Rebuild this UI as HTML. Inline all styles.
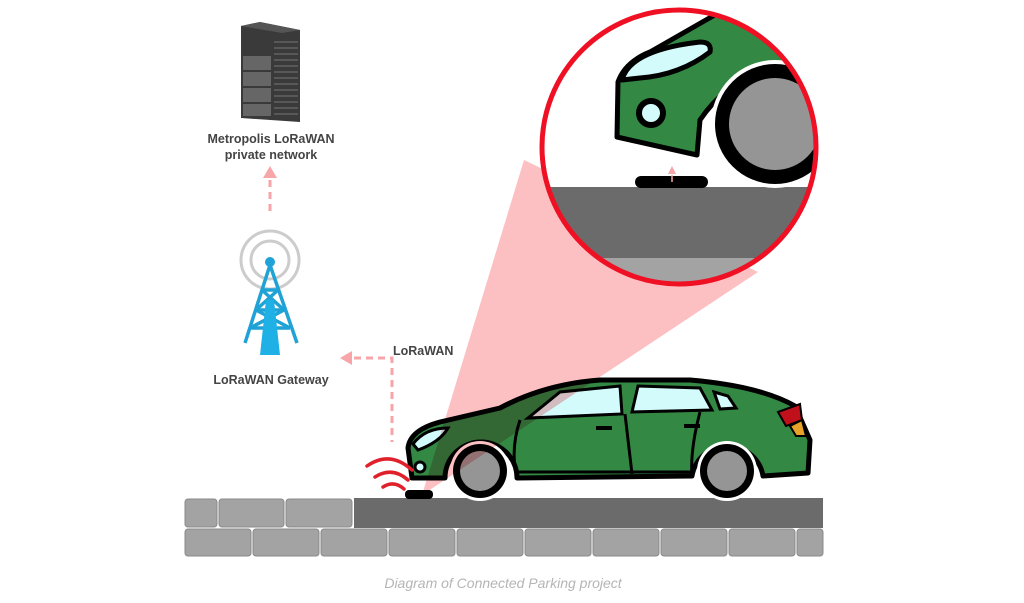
<!DOCTYPE html>
<html><head><meta charset="utf-8"><style>
html,body{margin:0;padding:0;background:#fff;width:1024px;height:603px;overflow:hidden}
svg{display:block}
text{font-family:"Liberation Sans",sans-serif}
</style></head><body>
<svg width="1024" height="603" viewBox="0 0 1024 603" xmlns="http://www.w3.org/2000/svg">
<defs>
<clipPath id="cc"><circle cx="679" cy="147" r="136"/></clipPath>
</defs>
<!-- server -->
<polygon points="241,26 260,22 300,30 300,122 241,118" fill="#3a3a3a"/>
<polygon points="241,26 260,22 300,30 282,33" fill="#555"/>
<rect x="243" y="56" width="28" height="14" fill="#666"/>
<rect x="243" y="72" width="28" height="14" fill="#666"/>
<rect x="243" y="88" width="28" height="14" fill="#666"/>
<rect x="243" y="104" width="28" height="12" fill="#666"/>
<g stroke="#777" stroke-width="1">
<line x1="274" y1="42" x2="298" y2="42"/><line x1="274" y1="48" x2="298" y2="48"/><line x1="274" y1="54" x2="298" y2="54"/><line x1="274" y1="60" x2="298" y2="60"/><line x1="274" y1="66" x2="298" y2="66"/><line x1="274" y1="72" x2="298" y2="72"/><line x1="274" y1="78" x2="298" y2="78"/><line x1="274" y1="84" x2="298" y2="84"/><line x1="274" y1="90" x2="298" y2="90"/><line x1="274" y1="96" x2="298" y2="96"/><line x1="274" y1="102" x2="298" y2="102"/><line x1="274" y1="108" x2="298" y2="108"/><line x1="274" y1="114" x2="298" y2="114"/>
</g>
<text x="271" y="143" font-size="12.5" font-weight="bold" fill="#444" text-anchor="middle">Metropolis LoRaWAN</text>
<text x="271" y="159" font-size="12.5" font-weight="bold" fill="#444" text-anchor="middle">private network</text>
<!-- up arrow -->
<polygon points="270,166 263,178 277,178" fill="#f7a5a8"/>
<line x1="270" y1="180" x2="270" y2="212" stroke="#f7a5a8" stroke-width="3" stroke-dasharray="7,5"/>
<!-- tower -->
<circle cx="270" cy="260" r="29" fill="none" stroke="#ccc" stroke-width="3"/>
<circle cx="270" cy="260" r="19" fill="none" stroke="#ccc" stroke-width="3"/>
<g stroke="#1fa3d6" stroke-width="3.5" fill="none">
<line x1="270" y1="265" x2="245" y2="343"/><line x1="270" y1="265" x2="297" y2="343"/>
<line x1="262" y1="290" x2="278" y2="290"/><line x1="256" y1="310" x2="284" y2="310"/><line x1="250" y1="328" x2="290" y2="328"/>
<line x1="262" y1="290" x2="284" y2="310"/><line x1="278" y1="290" x2="256" y2="310"/>
<line x1="256" y1="310" x2="290" y2="328"/><line x1="284" y1="310" x2="250" y2="328"/>
</g>
<circle cx="270" cy="262" r="5" fill="#1fa3d6"/>
<polygon points="266,300 274,300 280,355 260,355" fill="#1fb0e6"/>
<text x="271" y="384" font-size="12.5" font-weight="bold" fill="#444" text-anchor="middle">LoRaWAN Gateway</text>
<!-- LoRaWAN arrow -->
<polygon points="340,358 352,351 352,365" fill="#f7a5a8"/>
<polyline points="354,358 392,358 392,442" fill="none" stroke="#f7a5a8" stroke-width="3" stroke-dasharray="7,5"/>
<text x="393" y="355" font-size="12.5" font-weight="bold" fill="#444">LoRaWAN</text>
<!-- road -->
<g fill="#a3a3a3" stroke="#8a8a8a" stroke-width="1">
<rect x="185" y="499" width="32" height="28" rx="3"/><rect x="219" y="499" width="65" height="28" rx="3"/><rect x="286" y="499" width="66" height="28" rx="3"/>
<rect x="185" y="529" width="66" height="27" rx="3"/><rect x="253" y="529" width="66" height="27" rx="3"/><rect x="321" y="529" width="66" height="27" rx="3"/><rect x="389" y="529" width="66" height="27" rx="3"/><rect x="457" y="529" width="66" height="27" rx="3"/><rect x="525" y="529" width="66" height="27" rx="3"/><rect x="593" y="529" width="66" height="27" rx="3"/><rect x="661" y="529" width="66" height="27" rx="3"/><rect x="729" y="529" width="66" height="27" rx="3"/><rect x="797" y="529" width="26" height="27" rx="3"/>
</g>
<rect x="354" y="498" width="469" height="30" fill="#6b6b6b"/>
<rect x="405" y="490" width="28" height="9" rx="4" fill="#000"/>
<!-- car -->
<path d="M412,478 L408,448 Q410,430 440,422 L500,408 Q545,384 600,380 L690,380 Q760,386 795,406 L810,440 L808,473 L763,476 A36,36 0 0 0 692,476 L517,478 A36,36 0 0 0 445,478 Z" fill="#338943" stroke="#000" stroke-width="5" stroke-linejoin="round"/>
<path d="M413,444 Q425,428 448,428 Q440,442 418,450 Z" fill="#d4fbfb" stroke="#000" stroke-width="3"/>
<polygon points="528,418 560,392 620,386 622,414" fill="#d4fbfb" stroke="#000" stroke-width="3"/>
<polygon points="638,386 700,388 712,410 632,412" fill="#d4fbfb" stroke="#000" stroke-width="3"/>
<polygon points="714,392 728,396 736,408 720,409" fill="#d4fbfb" stroke="#000" stroke-width="3"/>
<polygon points="778,412 800,404 802,420 786,426" fill="#c0101c" stroke="#000" stroke-width="2"/>
<polygon points="790,426 802,420 806,436 796,436" fill="#e8a22a" stroke="#000" stroke-width="2"/>
<path d="M520,420 Q510,450 517,478 M625,414 L632,474 M700,412 Q690,450 692,476 M515,472 L694,472" stroke="#000" stroke-width="3" fill="none"/>
<line x1="596" y1="428" x2="612" y2="428" stroke="#000" stroke-width="4"/>
<line x1="684" y1="426" x2="700" y2="426" stroke="#000" stroke-width="4"/>
<circle cx="420" cy="467" r="5" fill="#d4fbfb" stroke="#000" stroke-width="3"/>
<circle cx="480" cy="471" r="30" fill="#fff"/>
<circle cx="480" cy="471" r="27" fill="#000"/>
<circle cx="480" cy="471" r="20" fill="#959595"/>
<circle cx="727" cy="471" r="30" fill="#fff"/>
<circle cx="727" cy="471" r="27" fill="#000"/>
<circle cx="727" cy="471" r="20" fill="#959595"/>
<!-- signal waves -->
<g fill="none" stroke="#e0202a" stroke-width="3.5" stroke-linecap="round">
<path d="M367,466 Q390,450 412,470"/><path d="M375,477 Q392,466 408,480"/><path d="M383,487 Q394,480 404,489"/>
</g>
<!-- beam -->
<polygon points="422,495 524,160 758,272" fill="#fb9ea2" opacity="0.65" style="mix-blend-mode:multiply"/>
<!-- magnifier circle -->
<circle cx="679" cy="147" r="136" fill="#fff"/>
<g clip-path="url(#cc)">
<rect x="530" y="187" width="300" height="71" fill="#6b6b6b"/>
<rect x="530" y="258" width="300" height="40" fill="#a3a3a3"/>
<rect x="635" y="176" width="73" height="12" rx="6" fill="#000"/>
<path d="M617,137 L618,82 Q625,62 650,52 L720,12 L830,10 L830,60 Q740,60 700,120 L697,155 Z" fill="#338943" stroke="#000" stroke-width="5" stroke-linejoin="round"/>
<path d="M622,80 Q630,50 700,42 Q712,42 710,52 Q680,75 640,78 Z" fill="#d4fbfb" stroke="#000" stroke-width="5" stroke-linejoin="round"/>
<circle cx="651" cy="113" r="12" fill="#d4fbfb" stroke="#000" stroke-width="6"/>
<circle cx="775" cy="124" r="64" fill="#fff"/>
<circle cx="775" cy="124" r="60" fill="#000"/>
<circle cx="775" cy="124" r="46" fill="#959595"/>
<polygon points="672,166 668,174 676,174" fill="#f7a5a8"/>
<line x1="672" y1="175" x2="672" y2="182" stroke="#f7a5a8" stroke-width="1.5"/>
</g>
<circle cx="679" cy="147" r="137" fill="none" stroke="#ef1024" stroke-width="5"/>
<text x="503" y="588" font-size="14" font-style="italic" fill="#b5b5b5" text-anchor="middle">Diagram of Connected Parking project</text>
</svg>
</body></html>
